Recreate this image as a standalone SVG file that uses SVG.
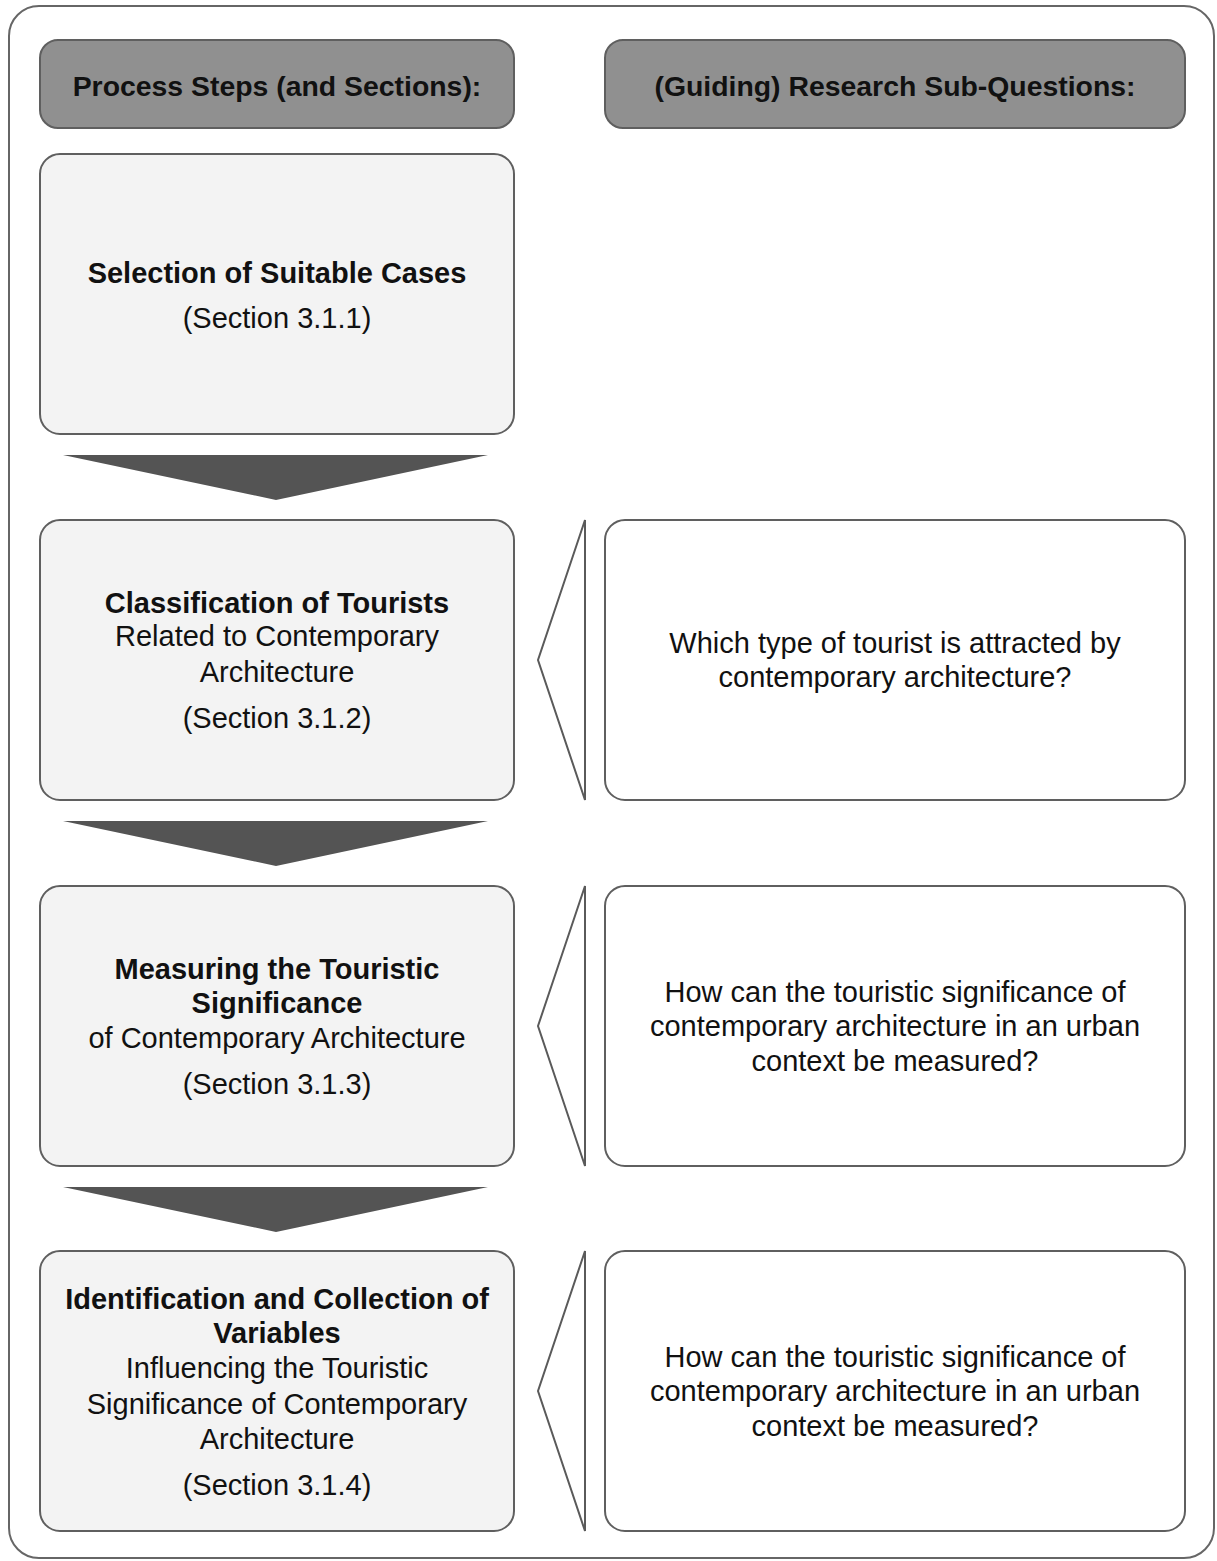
<svg xmlns="http://www.w3.org/2000/svg" width="1217" height="1561" viewBox="0 0 1217 1561">
  <style>
    text { font-family: "Liberation Sans", Arial, sans-serif; font-size: 29px; fill: #111; text-anchor: middle; }
    .b { font-weight: bold; }
    .h { font-weight: bold; font-size: 28.4px; }
    .hdr { fill: #909090; stroke: #5f5f5f; stroke-width: 2; }
    .step { fill: #f3f3f3; stroke: #5f5f5f; stroke-width: 2; }
    .q { fill: #ffffff; stroke: #5f5f5f; stroke-width: 2; }
    .down { fill: #545454; }
    .side { fill: #ffffff; stroke: #5a5a5a; stroke-width: 2; stroke-linejoin: miter; }
  </style>
  <rect width="1217" height="1561" fill="#ffffff"/>
  <!-- outer frame -->
  <rect x="9" y="6" width="1205" height="1552" rx="30" fill="none" stroke="#666" stroke-width="2"/>

  <g id="header-steps">
    <rect class="hdr" x="40" y="40" width="474" height="88" rx="18"/>
    <text class="h" x="277" y="96">Process Steps (and Sections):</text>
  </g>
  <g id="header-questions">
    <rect class="hdr" x="605" y="40" width="580" height="88" rx="18"/>
    <text class="h" x="895" y="96">(Guiding) Research Sub-Questions:</text>
  </g>

  <g id="step1">
    <rect class="step" x="40" y="154" width="474" height="280" rx="20"/>
    <text class="b" x="277" y="283">Selection of Suitable Cases</text>
    <text x="277" y="328">(Section 3.1.1)</text>
  </g>
  <g id="step2">
    <rect class="step" x="40" y="520" width="474" height="280" rx="20"/>
    <text class="b" x="277" y="613">Classification of Tourists</text>
    <text x="277" y="646">Related to Contemporary</text>
    <text x="277" y="682">Architecture</text>
    <text x="277" y="728">(Section 3.1.2)</text>
  </g>
  <g id="step3">
    <rect class="step" x="40" y="886" width="474" height="280" rx="20"/>
    <text class="b" x="277" y="979">Measuring the Touristic</text>
    <text class="b" x="277" y="1013">Significance</text>
    <text x="277" y="1048">of Contemporary Architecture</text>
    <text x="277" y="1094">(Section 3.1.3)</text>
  </g>
  <g id="step4">
    <rect class="step" x="40" y="1251" width="474" height="280" rx="20"/>
    <text class="b" x="277" y="1309">Identification and Collection of</text>
    <text class="b" x="277" y="1343">Variables</text>
    <text x="277" y="1378">Influencing the Touristic</text>
    <text x="277" y="1414">Significance of Contemporary</text>
    <text x="277" y="1449">Architecture</text>
    <text x="277" y="1495">(Section 3.1.4)</text>
  </g>

  <g id="question2">
    <rect class="q" x="605" y="520" width="580" height="280" rx="20"/>
    <text x="895" y="653">Which type of tourist is attracted by</text>
    <text x="895" y="687">contemporary architecture?</text>
  </g>
  <g id="question3">
    <rect class="q" x="605" y="886" width="580" height="280" rx="20"/>
    <text x="895" y="1002">How can the touristic significance of</text>
    <text x="895" y="1036">contemporary architecture in an urban</text>
    <text x="895" y="1071">context be measured?</text>
  </g>
  <g id="question4">
    <rect class="q" x="605" y="1251" width="580" height="280" rx="20"/>
    <text x="895" y="1367">How can the touristic significance of</text>
    <text x="895" y="1401">contemporary architecture in an urban</text>
    <text x="895" y="1436">context be measured?</text>
  </g>

  <g id="connectors">
    <!-- downward flow arrows between steps -->
    <polygon class="down" points="63,455 488,455 276,500"/>
    <polygon class="down" points="63,821 488,821 276,866"/>
    <polygon class="down" points="63,1187 488,1187 276,1232"/>
    <!-- questions pointing to their steps -->
    <polygon class="side" points="585,520 585,800 538,660"/>
    <polygon class="side" points="585,886 585,1166 538,1026"/>
    <polygon class="side" points="585,1251 585,1531 538,1391"/>
  </g>
</svg>
